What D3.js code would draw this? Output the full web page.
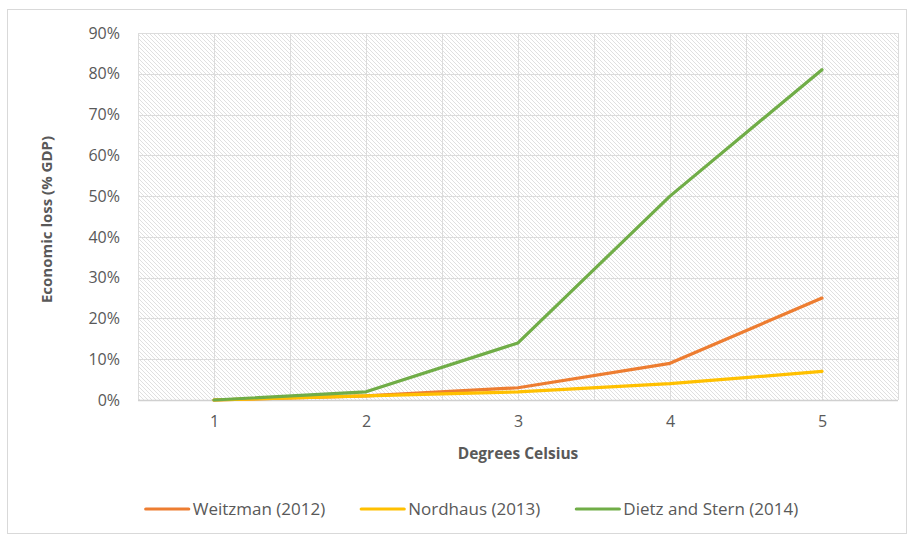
<!DOCTYPE html>
<html>
<head>
<meta charset="utf-8">
<script src="https://cdn.jsdelivr.net/npm/d3@7"></script>
<style>
  html, body { margin: 0; padding: 0; background: #fff; }
  svg { display: block; font-family: "Open Sans", sans-serif; }
</style>
</head>
<body>
<div id="chart"></div>
<script>
// data
const categories = [1, 2, 3, 4, 5];
const weitzman = [0, 0.01, 0.03, 0.09, 0.25];
const nordhaus = [0, 0.01, 0.02, 0.04, 0.07];
const dietzStern = [0, 0.02, 0.14, 0.50, 0.81];
const yTicks = [0, 0.1, 0.2, 0.3, 0.4, 0.5, 0.6, 0.7, 0.8, 0.9];
const seriesNames = ['Weitzman (2012)', 'Nordhaus (2013)', 'Dietz and Stern (2014)'];
const seriesColors = ['#ED7D31', '#FFC000', '#70AD47'];

const width = 910, height = 536;
const plot = { left: 138, right: 898, top: 33, bottom: 400 };

const svg = d3.select('#chart')
  .append('svg')
  .attr('width', width)
  .attr('height', height);

// outer chart border
svg.append('rect')
  .attr('x', 7.5).attr('y', 9.5)
  .attr('width', 899).attr('height', 524)
  .attr('fill', '#fff')
  .attr('stroke', '#d9d9d9');

// hatch pattern for plot area
const defs = svg.append('defs');
defs.append('pattern')
  .attr('id', 'hatch')
  .attr('patternUnits', 'userSpaceOnUse')
  .attr('width', 4).attr('height', 4)
  .append('path')
  .attr('d', 'M-1,-1 L5,5 M3,-1 L5,1 M-1,3 L1,5')
  .attr('stroke', '#e0e0e0')
  .attr('stroke-width', 1);

const x = d3.scalePoint()
  .domain(categories)
  .range([plot.left, plot.right])
  .padding(0.5);

const y = d3.scaleLinear()
  .domain([0, 0.9])
  .range([plot.bottom, plot.top]);

svg.append('rect')
  .attr('x', plot.left).attr('y', plot.top)
  .attr('width', plot.right - plot.left)
  .attr('height', plot.bottom - plot.top)
  .attr('fill', 'url(#hatch)');

// gridlines: vertical every half category step
const step = x.step();
const vLines = d3.range(0, categories.length * 2 + 1).map(i => plot.left + i * step / 2);
svg.append('g')
  .selectAll('line')
  .data(vLines)
  .join('line')
  .attr('x1', d => Math.round(d) + 0.5).attr('x2', d => Math.round(d) + 0.5)
  .attr('y1', plot.top).attr('y2', plot.bottom)
  .attr('stroke', '#dcdcdc');

svg.append('g')
  .selectAll('line')
  .data(yTicks)
  .join('line')
  .attr('x1', plot.left).attr('x2', plot.right)
  .attr('y1', d => Math.round(y(d)) + 0.5).attr('y2', d => Math.round(y(d)) + 0.5)
  .attr('stroke', '#dcdcdc');

// x axis baseline
svg.append('line')
  .attr('x1', plot.left).attr('x2', plot.right)
  .attr('y1', plot.bottom + 0.5).attr('y2', plot.bottom + 0.5)
  .attr('stroke', '#d0d0d0')
  .attr('stroke-width', 1.5);

// axes (labels only)
const yAxis = svg.append('g')
  .attr('transform', `translate(${plot.left},0)`)
  .call(d3.axisLeft(y).tickValues(yTicks).tickFormat(d3.format('.0%')).tickSize(0).tickPadding(18));
const xAxis = svg.append('g')
  .attr('transform', `translate(0,${plot.bottom})`)
  .call(d3.axisBottom(x).tickSize(0).tickPadding(16));

[yAxis, xAxis].forEach(a => {
  a.select('.domain').remove();
  a.selectAll('text')
    .attr('fill', '#595959')
    .style('font-family', '"Open Sans", sans-serif')
    .style('font-size', '16px');
});

// axis titles
svg.append('text')
  .attr('transform', `translate(52,${(plot.top + plot.bottom) / 2 + 3}) rotate(-90)`)
  .attr('text-anchor', 'middle')
  .attr('fill', '#595959')
  .style('font-size', '15px')
  .style('font-weight', 'bold')
  .text('Economic loss (% GDP)');

svg.append('text')
  .attr('x', (plot.left + plot.right) / 2)
  .attr('y', 459)
  .attr('text-anchor', 'middle')
  .attr('fill', '#595959')
  .style('font-size', '15.5px')
  .style('font-weight', 'bold')
  .text('Degrees Celsius');

// series lines
const series = [weitzman, nordhaus, dietzStern];
const line = d3.line()
  .x((d, i) => x(categories[i]))
  .y(d => y(d));

svg.append('g')
  .selectAll('path')
  .data(series)
  .join('path')
  .attr('fill', 'none')
  .attr('stroke', (d, i) => seriesColors[i])
  .attr('stroke-width', 3.2)
  .attr('stroke-linejoin', 'round')
  .attr('stroke-linecap', 'round')
  .attr('d', line);

// legend
const legend = svg.append('g').attr('class', 'legend');
const items = legend.selectAll('g')
  .data(seriesNames)
  .join('g');

items.append('line')
  .attr('x1', 0).attr('x2', 43)
  .attr('y1', 0).attr('y2', 0)
  .attr('stroke', (d, i) => seriesColors[i])
  .attr('stroke-width', 3.2)
  .attr('stroke-linecap', 'round');

items.append('text')
  .attr('x', 47)
  .attr('dy', '0.35em')
  .attr('fill', '#595959')
  .style('font-size', '17px')
  .text(d => d);

let offset = 0;
const positions = [];
items.each(function () {
  const w = 47 + this.querySelector('text').getComputedTextLength();
  positions.push(offset);
  offset += w + 36;
});
const totalW = offset - 36;
const legendLeft = 472 - totalW / 2;
items.attr('transform', (d, i) => `translate(${legendLeft + positions[i]},509)`);
</script>
</body>
</html>
